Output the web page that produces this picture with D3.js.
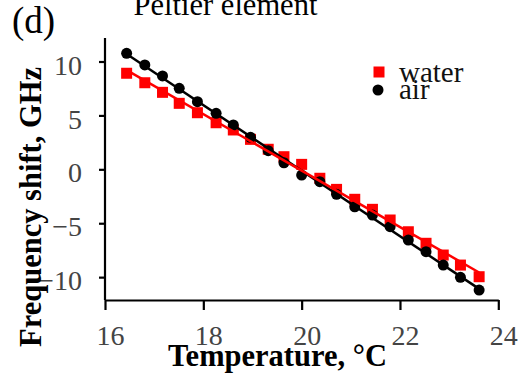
<!DOCTYPE html>
<html><head><meta charset="utf-8">
<script src="https://cdn.jsdelivr.net/npm/d3@7"></script>
<style>body{margin:0;background:#fff}svg{display:block}text{font-family:'Liberation Serif','Times New Roman',serif}</style>
</head><body>
<svg id="c" width="521" height="375"></svg>
<script>
const temperature = [16.44,16.81,17.17,17.51,17.88,18.26,18.61,18.96,19.32,19.64,20.00,20.37,20.71,21.08,21.44,21.80,22.17,22.53,22.88,23.23,23.61];
const waterShift = [8.91,8.03,7.14,6.12,5.25,4.32,3.65,2.78,1.86,1.17,0.46,-0.83,-1.86,-2.78,-3.71,-4.70,-5.79,-6.86,-7.95,-8.88,-9.96];
const airShift = [10.76,9.68,8.66,7.51,6.27,5.19,4.11,2.97,1.73,0.61,-0.53,-1.15,-2.32,-3.47,-4.24,-5.32,-6.56,-7.64,-8.88,-10.02,-11.20];
const xTicks = [16,18,20,22,24];
const yTicks = [-10,-5,0,5,10];
const seriesNames = ["water","air"];
const title = "Peltier element";
const panelLabel = "(d)";
const xLabel = "Temperature, °C";
const yLabel = "Frequency shift, GHz";

const FONT = "'Liberation Serif','Times New Roman',serif";
const svg = d3.select("#c");
const x = d3.scaleLinear().domain([16,24]).range([105,498.3]);
const y = d3.scaleLinear().domain([-12.12,12.18]).range([300,38]);

function fit(xs, ys){
  const mx = d3.mean(xs), my = d3.mean(ys);
  let sxy=0,sxx=0;
  xs.forEach((v,i)=>{sxy+=(v-mx)*(ys[i]-my); sxx+=(v-mx)*(v-mx);});
  const b = sxy/sxx, a = my-b*mx;
  const x0 = d3.min(xs), x1 = d3.max(xs);
  return [[x0,a+b*x0],[x1,a+b*x1]];
}

// axes
const gx = svg.append("g").attr("transform","translate(0,300)")
  .call(d3.axisBottom(x).tickValues(xTicks).tickFormat(d3.format("d")).tickSize(10).tickSizeOuter(0).tickPadding(15));
const gy = svg.append("g").attr("transform","translate(105,0)")
  .call(d3.axisLeft(y).tickValues(yTicks).tickFormat(d3.format("d")).tickSize(6).tickSizeOuter(0).tickPadding(17));
[gx,gy].forEach(g=>{
  g.attr("font-family",FONT).attr("font-size",28);
  g.select(".domain").attr("stroke","#000").attr("stroke-width",2.2);
  g.selectAll(".tick line").attr("stroke","#000").attr("stroke-width",2.2);
  g.selectAll(".tick text").attr("fill","#444").attr("font-family",FONT).style("font-size","28px");
});
gx.selectAll(".tick text").attr("dx","5");
gy.selectAll(".tick text").attr("dy","0.45em");
gy.select(".domain").attr("d","M0,38V300");

const waterPts = temperature.map((t,i)=>[t,waterShift[i]]);
const airPts = temperature.map((t,i)=>[t,airShift[i]]);
const line = d3.line().x(d=>x(d[0])).y(d=>y(d[1]));

svg.append("g").selectAll("rect").data(waterPts).join("rect")
  .attr("x",d=>x(d[0])-5.5).attr("y",d=>y(d[1])-5.5).attr("width",11).attr("height",11).attr("fill","#ff0000");
svg.append("g").selectAll("circle").data(airPts).join("circle")
  .attr("cx",d=>x(d[0])).attr("cy",d=>y(d[1])).attr("r",5.5).attr("fill","#000");
svg.append("path").datum(fit(temperature,airShift)).attr("d",line).attr("stroke","#000").attr("stroke-width",2.5).attr("fill","none");
svg.append("path").datum(fit(temperature,waterShift)).attr("d",line).attr("stroke","#ff0000").attr("stroke-width",2.5).attr("fill","none");

// legend
const leg = svg.append("g").attr("font-family",FONT);
leg.append("rect").attr("x",373.5).attr("y",66.5).attr("width",11).attr("height",11).attr("fill","#ff0000");
leg.append("circle").attr("cx",378).attr("cy",90).attr("r",5.5).attr("fill","#000");
leg.append("text").attr("x",399).attr("y",82).text(seriesNames[0]).style("font-size","29px").attr("fill","#111");
leg.append("text").attr("x",399).attr("y",98.5).text(seriesNames[1]).style("font-size","29px").attr("fill","#111");

// labels
svg.append("text").attr("x",277.5).attr("y",366).attr("text-anchor","middle").text(xLabel)
  .style("font-size","30.5px").style("font-weight","bold");
svg.append("text").attr("transform","translate(41,207) rotate(-90)").attr("text-anchor","middle").text(yLabel)
  .style("font-size","30.5px").style("font-weight","bold");
svg.append("text").attr("x",225.5).attr("y",15).attr("text-anchor","middle").text(title)
  .style("font-size","30.5px");
svg.append("text").attr("x",12).attr("y",33).text(panelLabel)
  .style("font-size","37px");
</script>
</body></html>
